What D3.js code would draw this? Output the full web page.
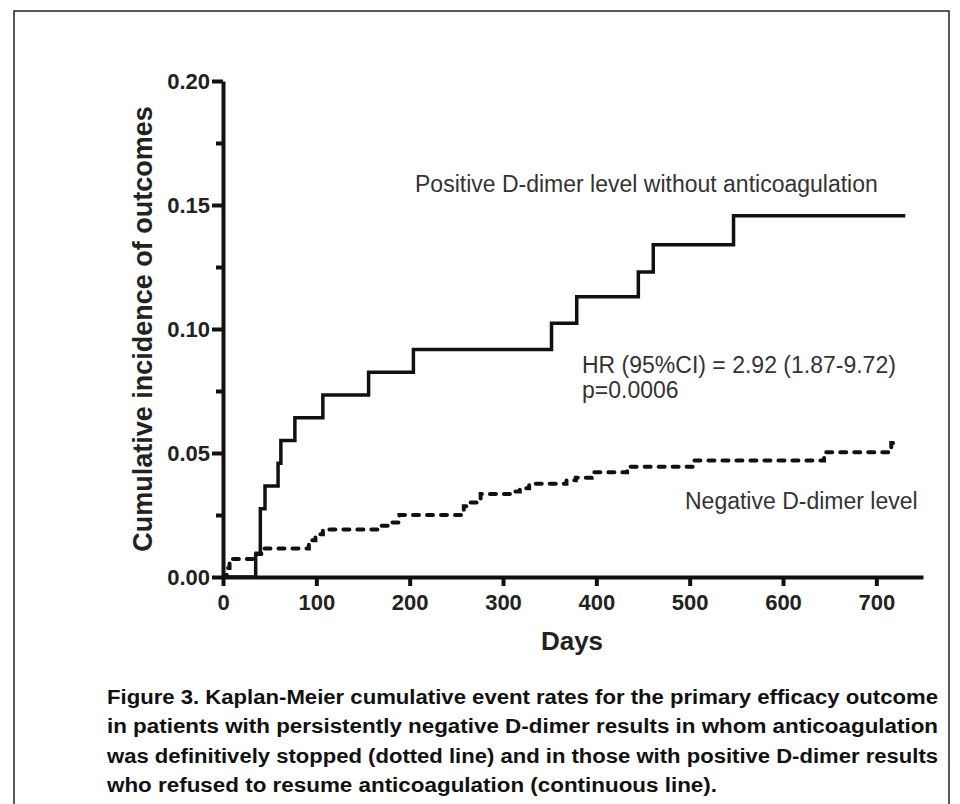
<!DOCTYPE html>
<meta charset="utf-8" />
<style>
  body { margin: 0; background: #fff; }
  svg { font-family: "Liberation Sans", Arial, sans-serif; }
  .axis path, .axis line { stroke: #111; stroke-width: 4px; }
  .axis text { font-size: 22px; font-weight: bold; fill: #222; }
  .note { font-size: 23px; fill: #333; }
  .title { font-size: 26px; font-weight: bold; fill: #222; }
  .caption { font-size: 20px; font-weight: bold; fill: #111; }
</style>
<svg width="960" height="804"></svg>
<script src="https://d3js.org/d3.v7.min.js"></script>
<script>
  // positive D-dimer, no anticoagulation (solid line)
  var posDays = [0, 35, 40, 45, 59, 62, 77, 107, 156, 204, 352, 379, 445, 461, 547, 731];
  var posRisk = [0, 0.0092, 0.0275, 0.0367, 0.0459, 0.055, 0.0642, 0.0734, 0.0826, 0.0917,
                 0.1023, 0.113, 0.123, 0.134, 0.1457, 0.1457];

  // negative D-dimer (dotted line)
  var negDays = [0, 4, 7, 36, 41, 92, 99, 107, 168, 180, 189, 258, 265, 276, 308, 318, 328,
                 368, 378, 395, 433, 505, 644, 716, 721];
  var negRisk = [0, 0.0036, 0.0073, 0.0095, 0.0115, 0.0148, 0.0172, 0.0192, 0.0207, 0.022,
                 0.025, 0.0285, 0.030, 0.0335, 0.0345, 0.0358, 0.0376, 0.039, 0.040, 0.0422,
                 0.0445, 0.047, 0.0503, 0.054, 0.054];

  var xTicks = [0, 100, 200, 300, 400, 500, 600, 700];
  var yTicks = [0, 0.05, 0.10, 0.15, 0.20];
  var yMinor = [0.025, 0.075, 0.125, 0.175];

  var captionLines = [
    "Figure 3. Kaplan-Meier cumulative event rates for the primary efficacy outcome",
    "in patients with persistently negative D-dimer results in whom anticoagulation",
    "was definitively stopped (dotted line) and in those with positive D-dimer results",
    "who refused to resume anticoagulation (continuous line)."
  ];
  var captionWidths = [831, 831, 831, 610];

  var svg = d3.select("svg");

  // frame round the figure
  svg.append("rect")
    .attr("x", 14).attr("y", 11)
    .attr("width", 935).attr("height", 820)
    .attr("fill", "none").attr("stroke", "#222").attr("stroke-width", 1.5);

  var x = d3.scaleLinear().domain([0, 750]).range([223, 923]);
  var y = d3.scaleLinear().domain([0, 0.2]).range([577, 81]);

  // minor y ticks
  svg.append("g")
    .attr("class", "axis")
    .attr("transform", "translate(" + x(0) + ",0)")
    .call(d3.axisLeft(y).tickValues(yMinor).tickSize(7).tickFormat(""))
    .select(".domain").remove();

  svg.append("g")
    .attr("class", "axis")
    .attr("transform", "translate(" + x(0) + ",0)")
    .call(d3.axisLeft(y).tickValues(yTicks).tickSize(11).tickSizeOuter(0)
      .tickPadding(2).tickFormat(d3.format(".2f")))
    .selectAll("text").attr("dy", "0.36em");

  svg.append("g")
    .attr("class", "axis")
    .attr("transform", "translate(0," + y(0) + ")")
    .call(d3.axisBottom(x).tickValues(xTicks).tickSize(9).tickSizeOuter(0).tickPadding(8));

  var line = d3.line()
    .x(function (d) { return x(d[0]); })
    .y(function (d) { return y(d[1]); })
    .curve(d3.curveStepAfter);

  svg.append("path")
    .datum(d3.zip(negDays, negRisk))
    .attr("d", line)
    .attr("fill", "none")
    .attr("stroke", "#111")
    .attr("stroke-width", 4)
    .attr("stroke-linecap", "round")
    .attr("stroke-dasharray", "6,8");

  svg.append("path")
    .datum(d3.zip(posDays, posRisk))
    .attr("d", line)
    .attr("fill", "none")
    .attr("stroke", "#111")
    .attr("stroke-width", 3.5);

  // axis titles
  svg.append("text")
    .attr("class", "title")
    .style("font-size", "27px")
    .attr("text-anchor", "middle")
    .attr("transform", "translate(152," + (y(0.1)) + ") rotate(-90)")
    .text("Cumulative incidence of outcomes");

  svg.append("text")
    .attr("class", "title")
    .attr("text-anchor", "middle")
    .attr("x", 572).attr("y", 650)
    .text("Days");

  // annotations
  svg.append("text").attr("class", "note")
    .attr("x", 415).attr("y", 192)
    .text("Positive D-dimer level without anticoagulation");

  svg.append("text").attr("class", "note")
    .attr("x", 582).attr("y", 373)
    .text("HR (95%CI) = 2.92 (1.87-9.72)");

  svg.append("text").attr("class", "note")
    .attr("x", 582).attr("y", 398)
    .text("p=0.0006");

  svg.append("text").attr("class", "note")
    .attr("x", 685).attr("y", 509)
    .text("Negative D-dimer level");

  // caption
  svg.append("g").selectAll("text")
    .data(captionLines)
    .enter()
    .append("text")
    .attr("class", "caption")
    .attr("x", 107)
    .attr("y", function (d, i) { return 704 + i * 29.3; })
    .attr("textLength", function (d, i) { return captionWidths[i]; })
    .attr("lengthAdjust", "spacingAndGlyphs")
    .text(function (d) { return d; });
</script>
